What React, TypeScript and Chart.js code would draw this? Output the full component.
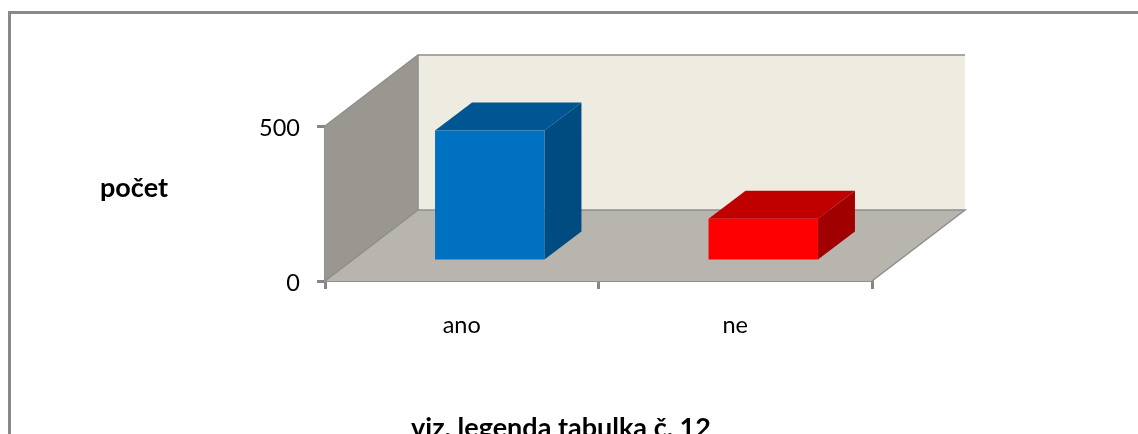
import React, { useEffect, useRef } from "react";
import { Chart, registerables } from "chart.js";

Chart.register(...registerables);

const categories = ["ano", "ne"];
const counts = [421, 136];
const yMax = 500;
const yTitle = "počet";
const xTitle = "viz. legenda tabulka č. 12";
const frontColors = ["#0070C0", "#FF0000"];
const topColors = ["#005692", "#C00000"];
const sideColors = ["#004B80", "#A00000"];

const FONT = "Lato, Carlito, 'Open Sans', sans-serif";
const WALL_DX = 93;
const WALL_DY = -71;
const BAR_OFFSET_X = 28;
const BAR_OFFSET_Y = -20;
const BAR_DX = 37;
const BAR_DY = -28;

function poly(ctx: CanvasRenderingContext2D, pts: number[][], fill: string, stroke?: string) {
  ctx.beginPath();
  pts.forEach((p, i) => (i ? ctx.lineTo(p[0], p[1]) : ctx.moveTo(p[0], p[1])));
  ctx.closePath();
  ctx.fillStyle = fill;
  ctx.fill();
  if (stroke) {
    ctx.strokeStyle = stroke;
    ctx.lineWidth = 1;
    ctx.stroke();
  }
}

const scene3d = {
  id: "scene3d",
  beforeDraw(chart: any) {
    const ctx = chart.ctx as CanvasRenderingContext2D;
    ctx.save();
    ctx.fillStyle = "#FFFFFF";
    ctx.fillRect(0, 0, chart.width, chart.height);
    ctx.strokeStyle = "#898989";
    ctx.lineWidth = 3;
    ctx.strokeRect(9.5, 12.5, chart.width + 20, chart.height + 20);
    ctx.restore();
  },
  beforeDatasetsDraw(chart: any) {
    const ctx = chart.ctx as CanvasRenderingContext2D;
    const { left, right, top, bottom } = chart.chartArea;
    const dx = WALL_DX;
    const dy = WALL_DY;
    ctx.save();
    const line = "#8E8E8A";
    // back wall
    poly(ctx, [[left + dx, top + dy], [right + dx, top + dy], [right + dx, bottom + dy], [left + dx, bottom + dy]], "#EEECE1");
    // side wall
    poly(ctx, [[left, top], [left + dx, top + dy], [left + dx, bottom + dy], [left, bottom]], "#9A9790");
    // floor
    poly(ctx, [[left, bottom], [right, bottom], [right + dx, bottom + dy], [left + dx, bottom + dy]], "#B8B5AE");
    ctx.strokeStyle = line;
    ctx.lineWidth = 1.5;
    ctx.beginPath();
    ctx.moveTo(left, top);
    ctx.lineTo(left + dx, top + dy);
    ctx.lineTo(right + dx, top + dy);
    ctx.moveTo(left, bottom);
    ctx.lineTo(left + dx, bottom + dy);
    ctx.lineTo(right + dx, bottom + dy);
    ctx.lineTo(right, bottom);
    ctx.moveTo(left + dx, top + dy);
    ctx.lineTo(left + dx, bottom + dy);
    ctx.stroke();
    ctx.restore();

    // Bars: depth faces are taken from the bar elements, then the front faces
    // are painted by Chart.js in the same shifted frame.
    ctx.save();
    ctx.translate(BAR_OFFSET_X, BAR_OFFSET_Y);
    chart.getDatasetMeta(0).data.forEach((bar: any, i: number) => {
      const l = bar.x - bar.width / 2;
      const r = bar.x + bar.width / 2;
      const t = bar.y;
      const b = bar.base;
      poly(ctx, [[l, t], [r, t], [r + BAR_DX, t + BAR_DY], [l + BAR_DX, t + BAR_DY]], topColors[i]);
      poly(ctx, [[r, t], [r + BAR_DX, t + BAR_DY], [r + BAR_DX, b + BAR_DY], [r, b]], sideColors[i]);
    });
  },
  afterDatasetsDraw(chart: any) {
    const ctx = chart.ctx as CanvasRenderingContext2D;
    ctx.restore();
    ctx.save();
    ctx.fillStyle = "#000000";
    ctx.textAlign = "center";
    ctx.textBaseline = "alphabetic";
    ctx.font = `bold 27px ${FONT}`;
    ctx.fillText(yTitle, 134, 197);
    ctx.fillText(xTitle, 561, 437);
    ctx.restore();
  },
};

export default function App() {
  const ref = useRef<HTMLCanvasElement>(null);
  useEffect(() => {
    const chart = new Chart(ref.current!, {
      type: "bar",
      data: {
        labels: categories,
        datasets: [
          {
            data: counts,
            backgroundColor: frontColors,
            borderWidth: 0,
            categoryPercentage: 0.8,
            barPercentage: 0.5,
            clip: false,
          } as any,
        ],
      },
      options: {
        responsive: false,
        animation: false,
        layout: { padding: { left: 0, right: 266, top: 126, bottom: 0 } },
        plugins: { legend: { display: false }, tooltip: { enabled: false }, title: { display: false } },
        scales: {
          x: {
            grid: { drawOnChartArea: false, color: "#868686", tickLength: 8, lineWidth: 3 },
            border: { color: "#909090", width: 2 },
            ticks: { color: "#000000", font: { family: FONT, size: 23.5 }, padding: 22, maxRotation: 0 },
            afterFit(s: any) {
              s.height = 153;
            },
          },
          y: {
            min: 0,
            max: yMax,
            grid: { drawOnChartArea: false, color: "#868686", tickLength: 8, lineWidth: 3 },
            border: { color: "#909090", width: 2 },
            ticks: { color: "#000000", stepSize: yMax, font: { family: FONT, size: 23.5 }, padding: 17, labelOffset: 2 },
            afterFit(s: any) {
              s.width = 325;
            },
          },
        },
      },
      plugins: [scene3d],
    } as any);
    return () => chart.destroy();
  }, []);
  return (
    <canvas
      ref={ref}
      width={1138}
      height={434}
      style={{ position: "absolute", left: 0, top: 0, display: "block" }}
    />
  );
}
